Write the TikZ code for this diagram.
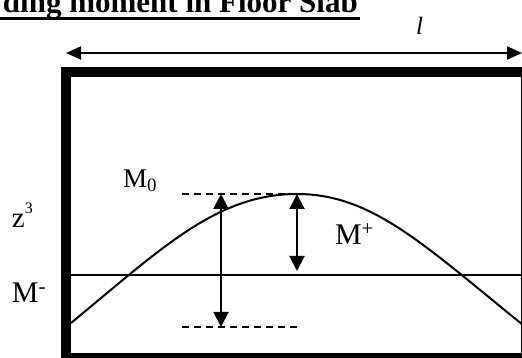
\documentclass[tikz,border=0pt]{standalone}
\usepackage{fontspec}
\setmainfont{Liberation Serif}
\usetikzlibrary{arrows.meta}
\tikzset{
  lbl/.style={inner sep=0pt, outer sep=0pt, anchor=base west},
  dimarrow/.style={line width=2pt, {Triangle[length=15pt,width=13pt]}-{Triangle[length=15pt,width=13pt]}},
  marrow/.style={line width=2pt, {Triangle[length=15pt,width=15pt]}-{Triangle[length=15pt,width=15pt]}},
  dashline/.style={line width=1.5pt, dash pattern=on 7pt off 5pt},
}
\begin{document}
\begin{tikzpicture}[x=1pt,y=1pt]
\useasboundingbox (0,0) rectangle (522,358);
\clip (0,0) rectangle (522,358);
% title
\node[inner sep=0pt, anchor=base east] (title) at (358,345) {\fontsize{31}{31}\selectfont\bfseries ding moment in Floor Slab};
\coordinate (ulL) at (0,339);
\coordinate (ulR) at (360,339);
\draw[line width=3pt] (ulL) -- (ulR);
% span dimension
\node[lbl] (ell) at (416,323) {\fontsize{25}{25}\selectfont\itshape l};
\coordinate (dimL) at (66,305);
\coordinate (dimR) at (522,305);
\draw[dimarrow] (dimL) -- (dimR);
% slab outline
\coordinate (slabTL) at (66,286);
\coordinate (slabBR) at (526,0);
\draw[line width=10pt, line join=miter] (slabTL) rectangle (slabBR);
% zero line
\coordinate (zL) at (71,83);
\coordinate (zR) at (522,83);
\draw[line width=1.6pt] (zL) -- (zR);
% moment curve
\coordinate (cS) at (71,35);
\coordinate (cP) at (297,164);
\coordinate (cE) at (523,33);
\draw[line width=2pt] (cS) .. controls (162,110) and (217,164) .. (cP)
  .. controls (372,164) and (424,113) .. (cE);
% dashed levels
\coordinate (dTL) at (182,164);
\coordinate (dTR) at (297,164);
\coordinate (dBL) at (182,31);
\coordinate (dBR) at (298,31);
\draw[dashline] (dTL) -- (dTR);
\draw[dashline] (dBL) -- (dBR);
% arrows
\coordinate (a0T) at (221,164);
\coordinate (a0B) at (221,31);
\draw[marrow] (a0T) -- (a0B);
\coordinate (apT) at (297,164);
\coordinate (apB) at (297,87);
\draw[marrow] (apT) -- (apB);
% labels
\node[lbl] (m0) at (123,170) {\fontsize{27}{27}\selectfont M\textsubscript{0}};
\node[lbl] (mp) at (335,113) {\fontsize{30}{30}\selectfont M\textsuperscript{+}};
\node[lbl] (mm) at (12,55) {\fontsize{30}{30}\selectfont M\textsuperscript{-}};
\node[lbl] (z3) at (12,130) {\fontsize{29}{29}\selectfont z\raisebox{0.5em}{\fontsize{16}{16}\selectfont 3}};
\end{tikzpicture}
\end{document}
